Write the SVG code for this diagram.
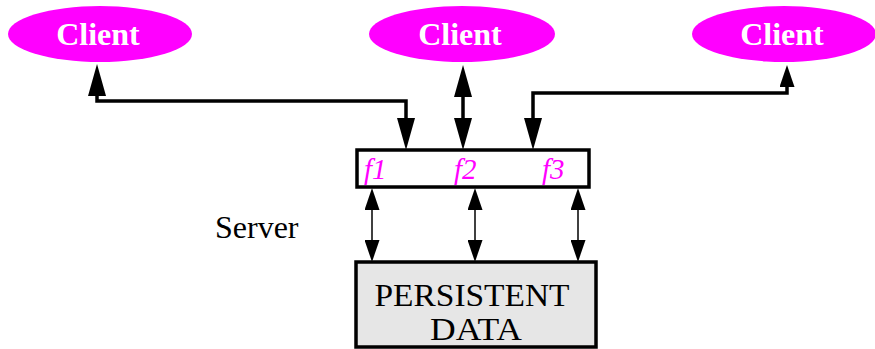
<svg xmlns="http://www.w3.org/2000/svg" width="875" height="349" viewBox="0 0 875 349">
<style>
.client{fill:#ff00ff}
.ctext{font-family:"Liberation Serif",serif;font-weight:bold;font-size:32px;fill:#ffffff;text-anchor:middle}
.ftext{font-family:"Liberation Serif",serif;font-style:italic;font-size:29px;fill:#ff00ff}
.thick{fill:none;stroke:#000;stroke-width:3.5}
.thin{fill:none;stroke:#000;stroke-width:1.5}
.box{fill:#fff;stroke:#000;stroke-width:3.5}
.data{fill:#e6e6e6;stroke:#000;stroke-width:3.5}
.label{font-family:"Liberation Serif",serif;font-size:31px;fill:#000;text-anchor:middle}
</style>
<defs>
<marker id="big" markerUnits="userSpaceOnUse" markerWidth="32" markerHeight="18" refX="0" refY="9" orient="auto-start-reverse" viewBox="0 0 32 18"><path d="M0,0 L32,9 L0,18 z" fill="#000"/></marker>
<marker id="small" markerUnits="userSpaceOnUse" markerWidth="22" markerHeight="15" refX="0" refY="7.5" orient="auto-start-reverse" viewBox="0 0 22 15"><path d="M0,0 L22,7.5 L0,15 z" fill="#000"/></marker>
</defs>
<g id="client1"><ellipse class="client" cx="100" cy="34" rx="92" ry="28"/><text class="ctext" x="98" y="45">Client</text></g>
<g id="client2"><ellipse class="client" cx="462" cy="34" rx="93" ry="28"/><text class="ctext" x="460" y="45">Client</text></g>
<g id="client3"><ellipse class="client" cx="784" cy="34" rx="92" ry="28"/><text class="ctext" x="782" y="45">Client</text></g>
<g id="server"><rect class="box" x="357" y="150" width="232" height="37"/><text class="ftext" x="364" y="179">f1</text><text class="ftext" x="454" y="179">f2</text><text class="ftext" x="542" y="179">f3</text></g>
<g id="server-label"><text x="215" y="238" font-family="Liberation Serif, serif" font-size="32">Server</text></g>
<g id="persistent-data"><rect class="data" x="356" y="262" width="240" height="85"/><text class="label" x="472" y="306" textLength="195" lengthAdjust="spacingAndGlyphs">PERSISTENT</text><text class="label" x="476" y="340" textLength="92" lengthAdjust="spacingAndGlyphs">DATA</text></g>
<g id="connectors">
<path class="thick" d="M97,96 V101 H406 V118" marker-start="url(#big)" marker-end="url(#big)"/>
<path class="thick" d="M463,97 V118" marker-start="url(#big)" marker-end="url(#big)"/>
<path class="thick" d="M787,87 V93 H533 V118" marker-start="url(#small)" marker-end="url(#big)"/>
<path class="thin" d="M372,210 V240" marker-start="url(#small)" marker-end="url(#small)"/>
<path class="thin" d="M475,210 V240" marker-start="url(#small)" marker-end="url(#small)"/>
<path class="thin" d="M578,210 V240" marker-start="url(#small)" marker-end="url(#small)"/>
</g>
</svg>
